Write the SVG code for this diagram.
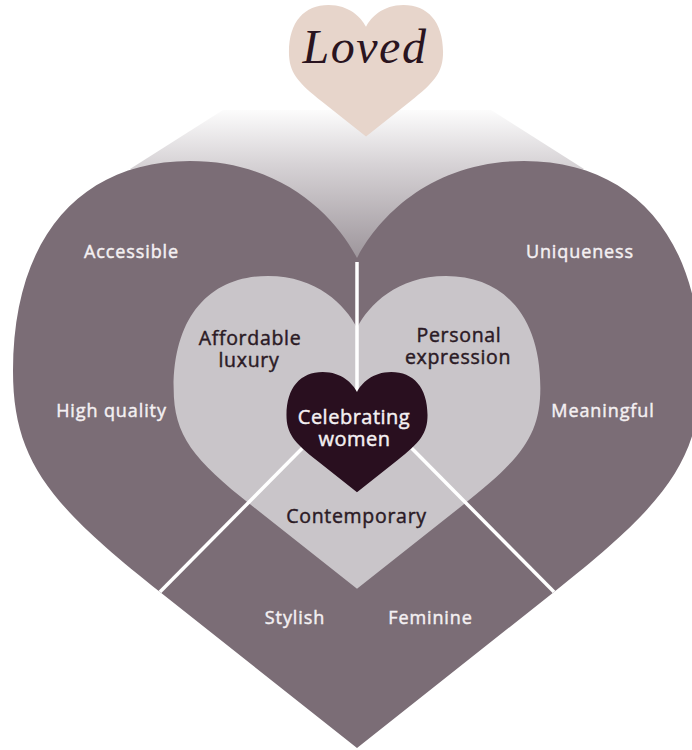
<svg xmlns="http://www.w3.org/2000/svg" xmlns:xlink="http://www.w3.org/1999/xlink" width="692" height="750" viewBox="0 0 692 750">
  <defs>
    <!-- Base heart outline: top-centre origin, 688 wide, 587 tall -->
    <path id="heart" d="M 0,97 C -22,55 -75,0 -167,0 C -275,0 -344,75 -344,210 C -344,300 -307,344 -197,431 L 0,587 L 197,431 C 307,344 344,300 344,210 C 344,75 275,0 167,0 C 75,0 22,55 0,97 Z"/>
    <linearGradient id="beam" gradientUnits="userSpaceOnUse" x1="0" y1="106" x2="0" y2="262">
      <stop offset="0" stop-color="#ffffff"/>
      <stop offset="0.38" stop-color="#d6d2d5"/>
      <stop offset="1" stop-color="#9b9399"/>
    </linearGradient>
    <clipPath id="outerClip">
      <use xlink:href="#heart" transform="translate(357,161)"/>
    </clipPath>
  </defs>
  <style>
    .outer { fill: #7b6d76; }
    .middle { fill: #c9c5c9; }
    .core { fill: #290f1f; }
    .top { fill: #e7d5cb; }
    .lbl { font-family: "Open Sans", "Noto Sans", "DejaVu Sans", sans-serif; text-anchor: middle; stroke-width: 0.45px; paint-order: stroke; }
    .light { fill: #f4f0f2; stroke: #f4f0f2; font-size: 18px; letter-spacing: 0.9px; }
    .dark { fill: #2b1a25; stroke: #2b1a25; font-size: 19.5px; letter-spacing: 0.7px; }
    .core-lbl { fill: #f4f0f2; stroke: #f4f0f2; font-size: 20px; letter-spacing: 0.5px; }
    .link { stroke: #ffffff; stroke-width: 3.5; fill: none; }
  </style>

  <!-- light beam joining the small heart to the big one -->
  <polygon fill="url(#beam)" points="223,110 491,110 584,169 357,300 130,169"/>

  <g id="node-outer">
    <use xlink:href="#heart" class="outer" transform="translate(357,161)"/>
    <text class="lbl light" x="131.5" y="258">Accessible</text>
    <text class="lbl light" x="111.5" y="417">High quality</text>
    <text class="lbl light" x="580" y="258">Uniqueness</text>
    <text class="lbl light" x="603" y="417">Meaningful</text>
    <text class="lbl light" x="295" y="624">Stylish</text>
    <text class="lbl light" x="430.5" y="624">Feminine</text>
  </g>

  <g id="node-middle">
    <use xlink:href="#heart" class="middle" transform="translate(357,276) scale(0.533)"/>
    <text class="lbl dark" x="250" y="345">Affordable</text>
    <text class="lbl dark" x="249" y="367">luxury</text>
    <text class="lbl dark" x="459" y="342">Personal</text>
    <text class="lbl dark" x="458" y="364">expression</text>
    <text class="lbl dark" x="356.5" y="523">Contemporary</text>
  </g>

  <g id="connectors" clip-path="url(#outerClip)">
    <line class="link" x1="357" y1="262" x2="357" y2="393"/>
    <line class="link" x1="357" y1="393" x2="150" y2="602"/>
    <line class="link" x1="357" y1="393" x2="564" y2="602"/>
  </g>

  <g id="node-core">
    <use xlink:href="#heart" class="core" transform="translate(357,372) scale(0.205)"/>
    <text class="lbl core-lbl" x="354" y="424">Celebrating</text>
    <text class="lbl core-lbl" x="354.5" y="446">women</text>
  </g>

  <g id="node-loved">
    <use xlink:href="#heart" class="top" transform="translate(366,5) scale(0.224)"/>
    <text x="365" y="63" font-family="'Liberation Serif', 'DejaVu Serif', serif" font-style="italic" font-size="48" letter-spacing="1.5" text-anchor="middle" fill="#2a1420">Loved</text>
  </g>
</svg>
